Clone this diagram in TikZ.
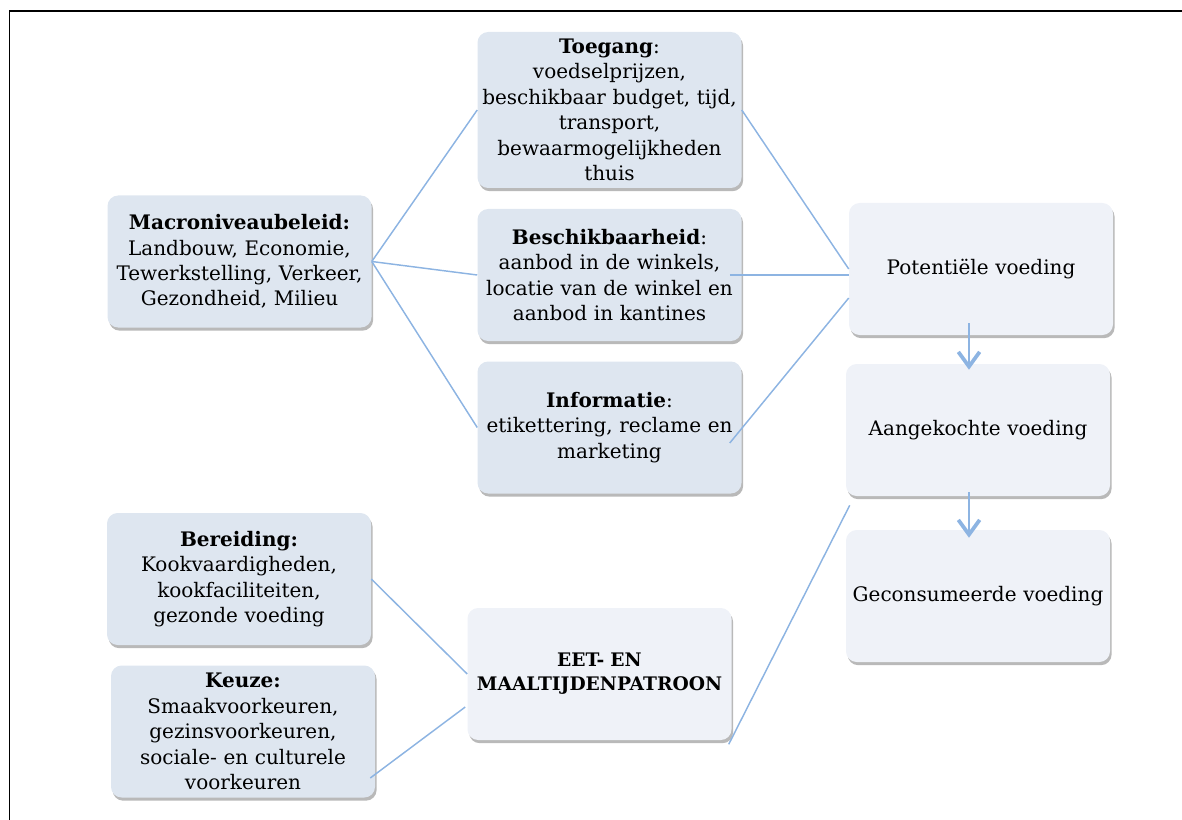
\documentclass[tikz,border=0pt]{standalone}
\usepackage{fontspec}
\setmainfont{DejaVu Serif}
\usepackage{tikz}
\usetikzlibrary{arrows.meta, positioning, shadows, calc}
\usepackage{xcolor}
\definecolor{boxblue}{RGB}{222,230,240}
\definecolor{boxpale}{RGB}{239,242,248}
\definecolor{linkblue}{RGB}{141,180,226}

\begin{document}
\begin{tikzpicture}[
    x=0.75pt, y=-0.75pt,
    factor/.style = {rectangle, fill=boxblue, rounded corners=8pt, align=center, inner sep=0pt, text width=198pt, minimum height=99pt, font=\fontsize{15pt}{19.1pt}\selectfont, drop shadow={shadow xshift=1.2pt, shadow yshift=-2.4pt, opacity=0.5, fill=black!55}},
    outcome/.style = {factor, fill=boxpale},
    link/.style = {draw=linkblue, line width=1.1pt},
    flow/.style = {draw=linkblue, line width=2.2pt, -{Straight Barb[length=11pt, width=16pt, line width=2.8pt]}}
]
\useasboundingbox (0,0) rectangle (1182,820);

\draw [line width=1.2pt] (9.5,820) -- (9.5,11) -- (1182,11);

\node (macro) [factor] at (239.5,261.5) {\textbf{Macroniveaubeleid:}\\Landbouw, Economie,\\Tewerkstelling, Verkeer,\\Gezondheid, Milieu};
\node (toegang) [factor, minimum height=117pt] at (609.5,110) {\textbf{Toegang}:\\voedselprijzen,\\beschikbaar budget, tijd,\\transport,\\bewaarmogelijkheden\\thuis};
\node (beschik) [factor] at (609.5,275) {\textbf{Beschikbaarheid}:\\aanbod in de winkels,\\locatie van de winkel en\\aanbod in kantines};
\node (info) [factor] at (609.5,427.5) {\textbf{Informatie}:\\etikettering, reclame en\\marketing};
\node (bereid) [factor] at (239,579) {\textbf{Bereiding:}\\Kookvaardigheden,\\kookfaciliteiten,\\gezonde voeding};
\node (keuze) [factor] at (243,731.5) {\textbf{Keuze:}\\Smaakvoorkeuren,\\gezinsvoorkeuren,\\sociale- en culturele\\voorkeuren};

\node (pot) [outcome] at (981,269) {Potentiële voeding};
\node (aan) [outcome] at (978,430) {Aangekochte voeding};
\node (gecon) [outcome] at (978,596) {Geconsumeerde voeding};
\node (eet) [outcome, font=\fontsize{14pt}{18pt}\selectfont\bfseries] at (599.5,674) {EET- EN\\MAALTIJDENPATROON};

\draw [link] (macro.east) -- (toegang.west);
\draw [link] (macro.east) -- (beschik.west);
\draw [link] (macro.east) -- (info.west);
\draw [link] (toegang.east) -- (pot.west);
\draw [link] ($(beschik.east)+(-12,0)$) -- ($(pot.west)+(0,6)$);
\draw [link] ($(info.east)+(-12,15.5)$) -- ($(pot.west)+(0,29)$);
\draw [link] (bereid.east) -- (eet.west);
\draw [link] ($(keuze.east)+(-5,46.5)$) -- ($(eet.west)+(-2,33)$);
\draw [link] ($(eet.south east)+(-3,4)$) -- ($(aan.south west)+(4,9)$);
\draw [flow] ($(pot.south)+(-12,-12)$) -- ($(aan.north)+(-9,6)$);
\draw [flow] ($(aan.south)+(-9,-4)$) -- ($(gecon.north)+(-9,8)$);

\end{tikzpicture}
\end{document}
